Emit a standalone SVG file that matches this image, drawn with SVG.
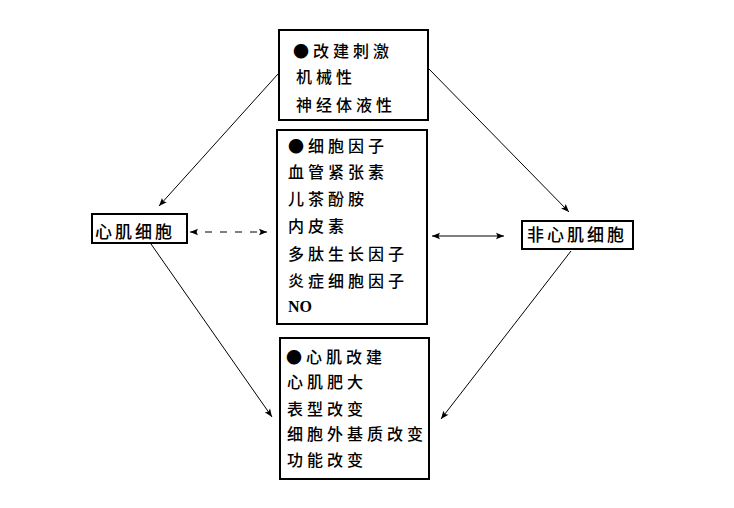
<svg xmlns="http://www.w3.org/2000/svg" width="734" height="508" viewBox="0 0 734 508">
<style>
.box{fill:#fff;stroke:#000;stroke-width:2}
.t{font-family:"Noto Sans CJK SC","Noto Sans CJK JP",sans-serif;font-size:16px;font-weight:500;fill:#000;letter-spacing:4px}
.lb{font-family:"Noto Sans CJK SC","Noto Sans CJK JP",sans-serif;font-size:17px;font-weight:500;fill:#000;letter-spacing:3px}
.ln{stroke:#000;stroke-width:1;fill:none}
.en{font-family:"Liberation Serif",serif;font-weight:bold;font-size:16px;letter-spacing:0}
</style>
<defs>
<marker id="ah" viewBox="0 0 10 10" refX="10" refY="5" markerWidth="10" markerHeight="8" markerUnits="userSpaceOnUse" orient="auto-start-reverse">
<path d="M0,1 L10,5 L0,9 L2,5 Z" fill="#000"/>
</marker>
</defs>
<rect width="734" height="508" fill="#fff"/>
<g id="connectors">
<line class="ln" x1="278" y1="74" x2="159" y2="206" marker-end="url(#ah)"/>
<line class="ln" x1="429" y1="69" x2="569" y2="212" marker-end="url(#ah)"/>
<line class="ln" x1="151" y1="244" x2="272" y2="417" marker-end="url(#ah)"/>
<line class="ln" x1="571" y1="251" x2="441" y2="419" marker-end="url(#ah)"/>
<line class="ln" x1="190" y1="232" x2="267" y2="232" stroke-dasharray="7,8" marker-start="url(#ah)" marker-end="url(#ah)"/>
<line class="ln" x1="432" y1="236" x2="504" y2="236" marker-start="url(#ah)" marker-end="url(#ah)"/>
</g>
<g id="stimulus">
<rect class="box" x="279" y="30" width="149" height="90"/>
<text class="t" x="293" y="57">●改建刺激</text>
<text class="t" x="296" y="83">机械性</text>
<text class="t" x="296" y="111">神经体液性</text>
</g>
<g id="factors">
<rect class="box" x="277" y="130" width="150" height="194"/>
<text class="t" x="288" y="152">●细胞因子</text>
<text class="t" x="288" y="178">血管紧张素</text>
<text class="t" x="288" y="205">儿茶酚胺</text>
<text class="t" x="288" y="232">内皮素</text>
<text class="t" x="288" y="260">多肽生长因子</text>
<text class="t" x="288" y="287">炎症细胞因子</text>
<text class="t en" x="288" y="312">NO</text>
</g>
<g id="remodeling">
<rect class="box" x="280" y="338" width="149" height="141"/>
<text class="t" x="286" y="363">●心肌改建</text>
<text class="t" x="287" y="388">心肌肥大</text>
<text class="t" x="287" y="415">表型改变</text>
<text class="t" x="287" y="440">细胞外基质改变</text>
<text class="t" x="287" y="466">功能改变</text>
</g>
<g id="cardiomyocyte">
<rect class="box" x="92" y="214" width="95" height="29"/>
<text class="lb" x="95" y="238">心肌细胞</text>
</g>
<g id="noncardiomyocyte">
<rect class="box" x="522" y="221" width="111" height="28"/>
<text class="lb" x="527" y="241">非心肌细胞</text>
</g>
</svg>
